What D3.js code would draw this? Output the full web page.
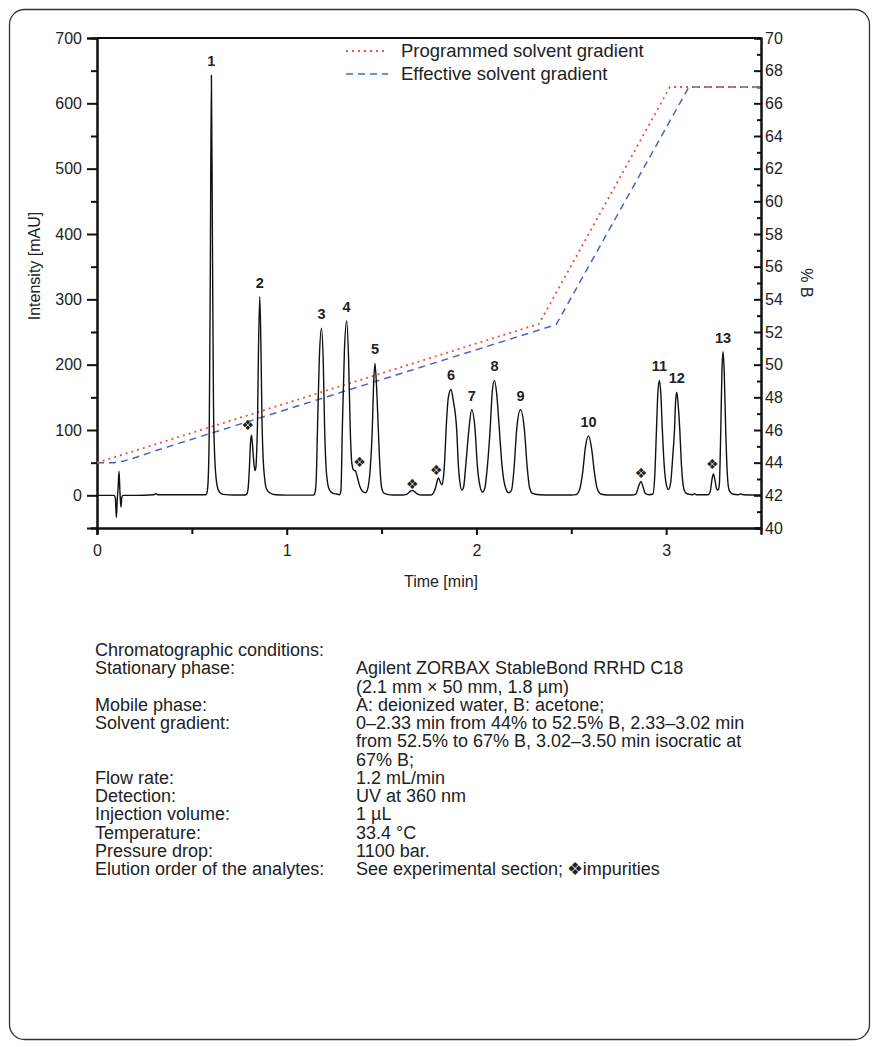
<!DOCTYPE html>
<html>
<head>
<meta charset="utf-8">
<script src="https://cdn.jsdelivr.net/npm/d3@7"></script>
<style>
  body { margin: 0; background: #fff; }
  svg text { font-family: "Liberation Sans", Arial, sans-serif; fill: #222; }
</style>
</head>
<body>
<div id="chart"></div>
<script>
// ── data ─────────────────────────────────────────────────────────
// chromatogram trace: [time (min), intensity (mAU)]
const trace = [
  [0,0],[0.09,0],[0.097,-5],[0.102,-34],[0.107,-5],[0.111,10],[0.116,37],[0.121,5],[0.126,-18],[0.131,-3],[0.138,0],
  [0.2,0],[0.3,1],[0.31,2.5],[0.32,1],[0.45,1],[0.55,1],
  [0.575,1],[0.582,8],[0.588,40],[0.592,110],[0.597,330],[0.603,643],[0.609,360],[0.614,140],[0.619,70],[0.625,35],
  [0.633,15],[0.645,5],[0.665,1.5],[0.72,0.5],[0.78,0.5],
  [0.79,2],[0.797,12],[0.803,40],[0.809,80],[0.814,92],[0.819,80],[0.826,52],[0.833,38],
  [0.838,44],[0.842,70],[0.846,110],[0.851,220],[0.858,304],[0.864,230],[0.87,110],[0.876,55],[0.884,25],[0.893,10],
  [0.91,4],[0.94,1],[1.0,0.3],[1.14,0.3],
  [1.148,3],[1.155,20],[1.162,100],[1.172,210],[1.183,256],[1.193,200],[1.2,100],[1.207,45],[1.216,18],[1.226,8],
  [1.245,3],[1.262,2],[1.279,1],
  [1.286,8],[1.293,100],[1.304,220],[1.316,267],[1.326,210],[1.335,100],[1.343,50],[1.352,39],[1.363,37],[1.372,28],
  [1.385,14],[1.4,6],[1.416,4],
  [1.425,8],[1.44,40],[1.451,100],[1.458,170],[1.465,202],[1.473,170],[1.483,100],[1.492,40],[1.5,12],[1.51,4],
  [1.53,1.5],[1.56,0.5],[1.61,0.5],[1.635,2],[1.65,6],[1.661,7.6],[1.672,6],[1.69,2],[1.71,0.5],[1.76,0.5],
  [1.772,3],[1.785,12],[1.795,24],[1.8,26.6],[1.81,20],[1.818,16],
  [1.825,25],[1.833,55],[1.84,100],[1.852,150],[1.866,162],[1.878,145],[1.896,100],[1.905,45],[1.912,22],[1.923,8],
  [1.932,12],[1.945,50],[1.96,100],[1.975,131],[1.993,100],[2.005,45],[2.018,15],[2.033,5],
  [2.045,12],[2.058,45],[2.072,100],[2.084,160],[2.095,176],[2.107,155],[2.121,100],[2.135,45],[2.15,15],[2.17,4],
  [2.185,8],[2.198,40],[2.212,100],[2.232,131],[2.253,100],[2.267,45],[2.28,12],[2.295,3],[2.33,1],[2.4,0.5],[2.5,0.5],
  [2.525,1],[2.545,10],[2.56,35],[2.575,75],[2.591,91],[2.607,72],[2.622,35],[2.637,10],[2.656,2],[2.69,0.5],[2.82,0.5],
  [2.84,2],[2.855,14],[2.867,21.4],[2.878,13],[2.89,3],[2.91,1],
  [2.93,2],[2.94,30],[2.949,100],[2.957,160],[2.965,176],[2.972,155],[2.98,100],[2.99,45],[3.0,18],[3.012,9],
  [3.024,20],[3.035,60],[3.044,100],[3.05,145],[3.056,158],[3.063,140],[3.072,100],[3.08,50],[3.09,15],[3.1,5],
  [3.115,2],[3.14,1],[3.15,2.5],[3.16,1],[3.22,1],
  [3.232,5],[3.242,25],[3.249,32.7],[3.257,24],[3.266,10],[3.274,8],
  [3.28,15],[3.288,100],[3.294,190],[3.3,220],[3.306,190],[3.314,100],[3.322,35],[3.332,8],[3.35,2],[3.38,1],
  [3.393,2],[3.405,1],[3.5,0.5]
];

// gradient curves (% B)
const programmedTime = [0, 2.33, 3.02, 3.5];
const programmedB    = [44, 52.5, 67, 67];
const effectiveTime  = [0, 0.09, 0.14, 0.2, 0.3, 2.42, 3.12, 3.5];
const effectiveB     = [44, 44, 44.1, 44.3, 44.7, 52.45, 67, 67];

// peak numbers at their apex (time, mAU)
const peakNames = ["1","2","3","4","5","6","7","8","9","10","11","12","13"];
const peakTime  = [0.603, 0.858, 1.183, 1.316, 1.465, 1.866, 1.975, 2.095, 2.232, 2.591, 2.965, 3.056, 3.300];
const peakMAU   = [643, 304, 256, 267, 202, 162, 131, 176, 131, 91, 176, 158, 220];

// impurity markers (time, mAU of the symbol)
const impurityTime = [0.795, 1.384, 1.662, 1.789, 2.868, 3.243];
const impurityMAU  = [108, 51, 18, 39, 34, 48];

const yTicksMajor = [0, 100, 200, 300, 400, 500, 600, 700];
const yTicksMinor = [-50, 50, 150, 250, 350, 450, 550, 650];
const xTicksMajor = [0, 1, 2, 3];
const xTicksMinor = [0.5, 1.5, 2.5];
const bTicksMajor = d3.range(40, 71, 2);
const bTicksMinor = d3.range(41, 70, 2);

const legendItems = ["Programmed solvent gradient", "Effective solvent gradient"];

const conditions = [
  ["Chromatographic conditions:", ""],
  ["Stationary phase:", "Agilent ZORBAX StableBond RRHD C18"],
  ["", "(2.1 mm \u00d7 50 mm, 1.8 \u00b5m)"],
  ["Mobile phase:", "A: deionized water, B: acetone;"],
  ["Solvent gradient:", "0\u20132.33 min from 44% to 52.5% B, 2.33\u20133.02 min"],
  ["", "from 52.5% to 67% B, 3.02\u20133.50 min isocratic at"],
  ["", "67% B;"],
  ["Flow rate:", "1.2 mL/min"],
  ["Detection:", "UV at 360 nm"],
  ["Injection volume:", "1 \u00b5L"],
  ["Temperature:", "33.4 \u00b0C"],
  ["Pressure drop:", "1100 bar."],
  ["Elution order of the analytes:", "See experimental section;\u2009\u2756impurities"]
];

// ── drawing ──────────────────────────────────────────────────────
const W = 875, H = 1047;
const svg = d3.select("#chart").append("svg")
    .attr("width", W).attr("height", H);

// rounded frame
svg.append("rect")
    .attr("x", 9.5).attr("y", 9.5).attr("width", 860).attr("height", 1030)
    .attr("rx", 15).attr("fill", "none").attr("stroke", "#333").attr("stroke-width", 1.3);

const plot = { left: 97, right: 761, top: 38, bottom: 528 };

const x  = d3.scaleLinear().domain([0, 3.5]).range([plot.left, plot.right]);
const y  = d3.scaleLinear().domain([-50, 700]).range([plot.bottom, plot.top]);
const yB = d3.scaleLinear().domain([40, 70]).range([plot.bottom, plot.top]);

function styleAxis(g) {
    g.select(".domain").attr("stroke", "#111").attr("stroke-width", 2);
    g.selectAll(".tick line").attr("stroke", "#111").attr("stroke-width", 2);
    g.selectAll(".tick text").style("font-size", "16px").attr("fill", "#222");
}

// top frame line
svg.append("line")
    .attr("x1", plot.left).attr("x2", plot.right)
    .attr("y1", plot.top).attr("y2", plot.top)
    .attr("stroke", "#111").attr("stroke-width", 2);

// left axis
svg.append("g").attr("transform", `translate(${plot.left},0)`)
    .call(d3.axisLeft(y).tickValues(yTicksMinor).tickSize(6).tickFormat(""))
    .call(styleAxis);
svg.append("g").attr("transform", `translate(${plot.left},0)`)
    .call(d3.axisLeft(y).tickValues(yTicksMajor).tickSize(10).tickPadding(5))
    .call(styleAxis);

// bottom axis
svg.append("g").attr("transform", `translate(0,${plot.bottom})`)
    .call(d3.axisBottom(x).tickValues(xTicksMinor).tickSize(6).tickFormat(""))
    .call(styleAxis);
svg.append("g").attr("transform", `translate(0,${plot.bottom})`)
    .call(d3.axisBottom(x).tickValues(xTicksMajor).tickSize(7).tickPadding(10).tickFormat(d3.format("d")))
    .call(styleAxis);

// right axis (% B), ticks pointing inward
svg.append("g").attr("transform", `translate(${plot.right},0)`)
    .call(d3.axisRight(yB).tickValues(bTicksMinor).tickSize(-4).tickFormat(""))
    .call(styleAxis);
svg.append("g").attr("transform", `translate(${plot.right},0)`)
    .call(d3.axisRight(yB).tickValues(bTicksMajor).tickSize(-7).tickPadding(4))
    .call(styleAxis);

// axis titles
svg.append("text")
    .attr("transform", "translate(40,266) rotate(-90)")
    .attr("text-anchor", "middle").style("font-size", "16px")
    .text("Intensity [mAU]");
svg.append("text")
    .attr("transform", `translate(801,${(plot.top + plot.bottom) / 2}) rotate(90)`)
    .attr("text-anchor", "middle").style("font-size", "16px")
    .text("% B");
svg.append("text")
    .attr("x", 441).attr("y", 587)
    .attr("text-anchor", "middle").style("font-size", "16px")
    .text("Time [min]");

// gradient lines
const gradLine = d3.line().x(d => x(d[0])).y(d => yB(d[1]));
svg.append("path")
    .attr("d", gradLine(d3.zip(effectiveTime, effectiveB)))
    .attr("fill", "none").attr("stroke", "#4a63c8").attr("stroke-width", 1.5)
    .attr("stroke-dasharray", "7,5");
svg.append("path")
    .attr("d", gradLine(d3.zip(programmedTime, programmedB)))
    .attr("fill", "none").attr("stroke", "#f2503c").attr("stroke-width", 1.8)
    .attr("stroke-dasharray", "2,4");

// chromatogram
const traceLine = d3.line().x(d => x(d[0])).y(d => y(d[1])).curve(d3.curveMonotoneX);
svg.append("path")
    .attr("d", traceLine(trace))
    .attr("fill", "none").attr("stroke", "#111").attr("stroke-width", 1.4)
    .attr("stroke-linejoin", "round");

// peak numbers
peakNames.forEach((name, i) => {
    svg.append("text")
        .attr("x", x(peakTime[i])).attr("y", y(peakMAU[i]) - 9)
        .attr("text-anchor", "middle")
        .style("font-size", "14.5px").style("font-weight", "bold").attr("fill", "#111")
        .text(name);
});

// impurity markers
impurityTime.forEach((t, i) => {
    svg.append("text")
        .attr("x", x(t)).attr("y", y(impurityMAU[i]))
        .attr("text-anchor", "middle").attr("dominant-baseline", "central")
        .style("font-family", "'DejaVu Sans', sans-serif").style("font-size", "14px").attr("fill", "#111")
        .text("\u2756");
});

// legend
const legend = svg.append("g").attr("transform", "translate(346,51)");
const legendStyles = [
    { color: "#f2503c", dash: "2,4", width: 1.8 },
    { color: "#4a63c8", dash: "7,5", width: 1.5 }
];
legendItems.forEach((label, i) => {
    const row = legend.append("g").attr("transform", `translate(0,${i * 23})`);
    row.append("line").attr("x1", 0).attr("x2", 42).attr("y1", 0).attr("y2", 0)
        .attr("stroke", legendStyles[i].color).attr("stroke-width", legendStyles[i].width)
        .attr("stroke-dasharray", legendStyles[i].dash);
    row.append("text").attr("x", 55).attr("y", 0).attr("dy", "0.35em")
        .style("font-size", "18.5px").text(label);
});

// conditions table
const table = svg.append("g");
conditions.forEach((row, i) => {
    const yy = 656 + i * 18.25;
    table.append("text").attr("x", 95).attr("y", yy).style("font-size", "18px").text(row[0]);
    table.append("text").attr("x", 356).attr("y", yy).style("font-size", "18px").text(row[1]);
});
</script>
</body>
</html>
